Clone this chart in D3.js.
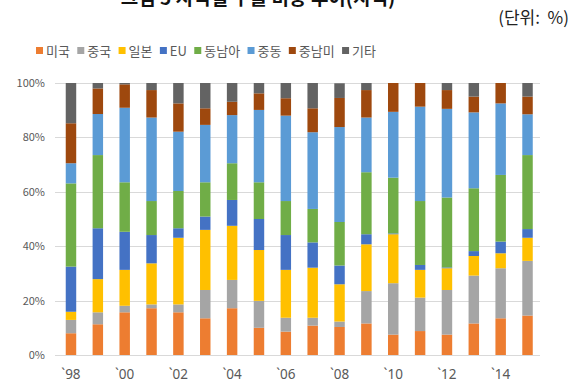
<!DOCTYPE html>
<html>
<head>
<meta charset="utf-8">
<script src="https://cdn.jsdelivr.net/npm/d3@7"></script>
<style>
  html, body { margin: 0; padding: 0; background: #fff; }
  svg { display: block; font-family: "Noto Sans CJK KR", "Noto Sans", sans-serif; }
</style>
</head>
<body>
<svg id="chart" width="583" height="386"></svg>
<script>
// Export share by destination region, 1998–2015 (%)
const years = [1998, 1999, 2000, 2001, 2002, 2003, 2004, 2005, 2006,
               2007, 2008, 2009, 2010, 2011, 2012, 2013, 2014, 2015];
const regions = ["미국", "중국", "일본", "EU", "동남아", "중동", "중남미", "기타"];
const colors  = ["#ED7D31", "#A5A5A5", "#FFC000", "#4472C4", "#70AD47", "#5B9BD5", "#9E480E", "#636363"];

const usa   = [8.0, 11.3, 15.7, 17.2, 15.7, 13.5, 17.2, 10.0, 8.6, 10.8, 10.3, 11.6, 7.5, 8.8, 7.5, 11.6, 13.5, 14.5];
const china = [4.9, 4.4, 2.4, 1.4, 2.9, 10.4, 10.4, 9.9, 5.1, 2.9, 2.0, 11.9, 18.9, 12.3, 16.4, 17.6, 18.4, 20.1];
const japan = [3.0, 12.2, 13.2, 15.1, 24.5, 22.1, 19.9, 18.7, 17.6, 18.4, 13.7, 17.2, 18.0, 10.2, 8.0, 7.2, 5.5, 8.5];
const eu    = [16.6, 18.7, 14.0, 10.4, 3.5, 4.9, 9.5, 11.4, 12.8, 9.3, 6.9, 3.7, 0.3, 1.8, 0.3, 1.8, 4.3, 3.2];
const asean = [30.6, 26.9, 18.2, 12.5, 13.7, 12.6, 13.5, 13.5, 12.5, 12.3, 16.0, 22.8, 20.5, 23.5, 25.7, 23.1, 24.5, 27.2];
const mideast = [7.4, 15.1, 27.4, 30.7, 21.8, 21.1, 17.7, 26.6, 31.4, 28.2, 34.9, 20.1, 24.2, 34.7, 32.6, 27.9, 26.3, 15.0];
const latam = [14.7, 9.4, 8.6, 10.1, 10.4, 6.1, 4.9, 6.1, 6.4, 8.8, 10.7, 10.1, 10.6, 8.7, 6.9, 5.8, 7.5, 6.5];
const other = [14.8, 2.0, 0.5, 2.6, 7.5, 9.3, 6.9, 3.8, 5.6, 9.3, 5.4, 2.6, 0.0, 0.0, 2.6, 5.0, 0.0, 5.0];

const yTicks = [0, 20, 40, 60, 80, 100];
const xLabels = ["`98", "`00", "`02", "`04", "`06", "`08", "`10", "`12", "`14"];

const seriesValues = [usa, china, japan, eu, asean, mideast, latam, other];
const table = years.map((yr, i) => {
  const row = { year: yr };
  regions.forEach((r, k) => { row[r] = seriesValues[k][i]; });
  return row;
});

const svg = d3.select("#chart");

const x = d3.scaleBand()
  .domain(years)
  .range([55, 543.5])
  .paddingInner(0.61)
  .paddingOuter(0.4);

const y = d3.scaleLinear().domain([0, 100]).range([355, 83]);

const color = d3.scaleOrdinal().domain(regions).range(colors);

// title (runs off the top edge)
svg.append("text")
  .attr("x", 258).attr("y", 5)
  .attr("text-anchor", "middle")
  .attr("font-size", 19).attr("font-weight", "bold")
  .attr("fill", "#111")
  .text("그림 5   지역별 수출 비중 추이(지역)");

// unit note
svg.append("text")
  .attr("x", 569).attr("y", 24)
  .attr("text-anchor", "end")
  .attr("font-size", 17)
  .attr("fill", "#222")
  .style("white-space", "pre")
  .text("(단위:  %)");

// gridlines
svg.append("g")
  .selectAll("line")
  .data(yTicks)
  .join("line")
  .attr("x1", 55).attr("x2", 540)
  .attr("y1", d => Math.round(y(d)) + 0.5)
  .attr("y2", d => Math.round(y(d)) + 0.5)
  .attr("stroke", "#D9D9D9")
  .attr("stroke-width", 1);

// y axis labels
const yAxis = d3.axisLeft(y).tickValues(yTicks).tickSize(0).tickPadding(0)
  .tickFormat(d => d + "%");
svg.append("g")
  .attr("transform", "translate(45,0)")
  .call(yAxis)
  .call(g => g.select(".domain").remove())
  .call(g => g.selectAll("text")
    .attr("font-size", 11)
    .attr("fill", "#595959")
    .attr("font-family", "'Noto Sans CJK KR', sans-serif"));

// stacked bars
const stack = d3.stack().keys(regions);
const layers = stack(table);

svg.append("g")
  .selectAll("g")
  .data(layers)
  .join("g")
  .attr("fill", d => color(d.key))
  .selectAll("rect")
  .data(d => d)
  .join("rect")
  .attr("x", d => x(d.data.year))
  .attr("width", x.bandwidth())
  .attr("y", d => y(d[1]))
  .attr("height", d => Math.max(0, y(d[0]) - y(d[1])));

// x axis labels (every second year)
const xAxis = d3.axisBottom(x).tickSize(0).tickPadding(0)
  .tickValues(years.filter((yr, i) => i % 2 === 0))
  .tickFormat((d, i) => xLabels[i]);
svg.append("g")
  .attr("transform", "translate(0,369)")
  .call(xAxis)
  .call(g => g.select(".domain").remove())
  .call(g => g.selectAll("text")
    .attr("font-size", 13.5)
    .attr("fill", "#595959")
    .attr("dy", "0.72em")
    .attr("font-family", "'Noto Sans', 'DejaVu Sans', sans-serif"));

// legend
const legend = svg.append("g").attr("font-size", 13);
const items = legend.selectAll("g").data(regions).join("g");
items.append("rect")
  .attr("width", 7).attr("height", 7)
  .attr("y", 47)
  .attr("fill", d => color(d));
items.append("text")
  .attr("x", 10).attr("y", 51)
  .attr("dy", "0.35em")
  .attr("fill", "#595959")
  .text(d => d);

const lgStart = 36, lgEnd = 376;
const widths = [];
items.each(function () {
  widths.push(10 + d3.select(this).select("text").node().getComputedTextLength());
});
const total = widths.reduce((a, b) => a + b, 0);
const gap = (lgEnd - lgStart - total) / (regions.length - 1);
let cx = lgStart;
items.each(function (d, i) {
  d3.select(this).attr("transform", `translate(${cx},0)`);
  cx += widths[i] + gap;
});
</script>
</body>
</html>
